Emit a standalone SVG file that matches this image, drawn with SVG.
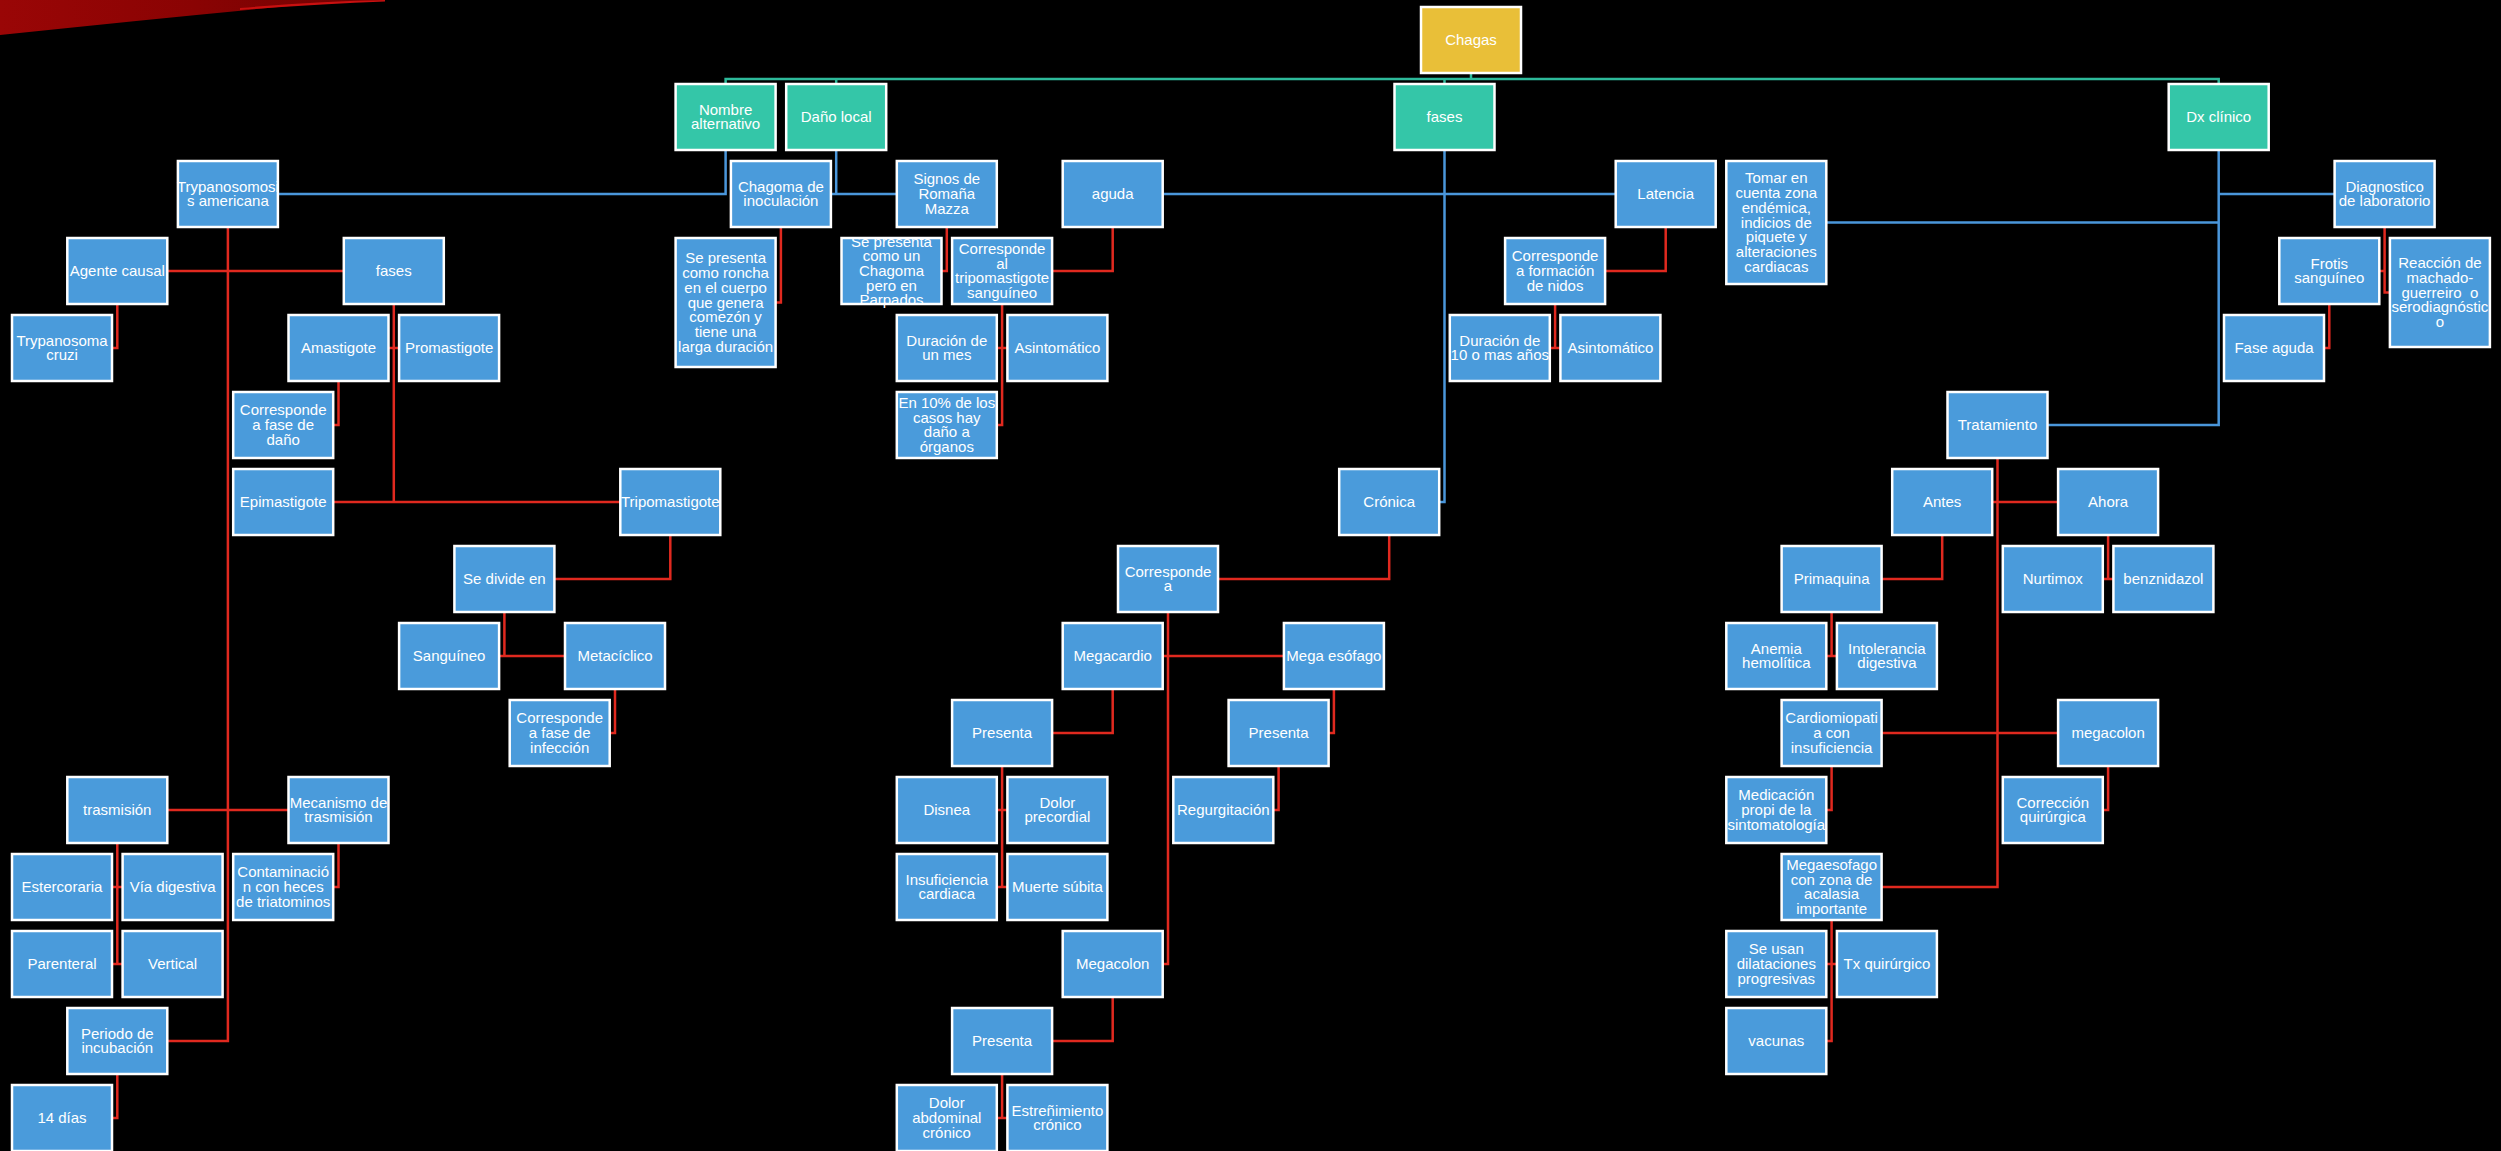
<svg xmlns="http://www.w3.org/2000/svg" width="2501" height="1151" viewBox="0 0 2501 1151">
<defs>
<linearGradient id="red" x1="0" y1="0" x2="1" y2="0">
<stop offset="0" stop-color="#9a0606"/><stop offset="0.5" stop-color="#8a0303"/><stop offset="1" stop-color="#6e0202"/>
</linearGradient>
<style>
.b{fill:#4A9BDB;stroke:#fff;stroke-width:2.5}
.g{fill:#34C6A8;stroke:#fff;stroke-width:2.5}
.y{fill:#E9BF38;stroke:#fff;stroke-width:2.5}
.t{font-family:"Liberation Sans",Arial,sans-serif;font-size:15px;fill:#fff;text-anchor:middle}
.ct{fill:none;stroke:#2DB99A;stroke-width:2.5}
.cb{fill:none;stroke:#4A96DA;stroke-width:2.5}
.cr{fill:none;stroke:#E0291F;stroke-width:2.5}
</style>
</defs>
<rect x="0" y="0" width="2501" height="1151" fill="#000"/>
<path d="M0,0 L385,0 Q330,3 300,5 Q160,18 0,35 Z" fill="url(#red)"/>
<path d="M240,8 Q320,1 385,0 L385,1.5 Q320,4 240,10 Z" fill="#c81010"/>
<g id="connectors">
<path class="ct" d="M725.6,84 V79 H2218.7 V84 M836.2,79 V84 M1444.5,79 V84 M1471,73 V79"/>
<path class="cb" d="M725.6,150 V194 H278 M836.2,150 V194 M830.9,194 H896.8 M1444.5,150 V502 H1439.2 M1162.7,194 H1615.7 M2218.7,150 V425 H2047.5 M2218.7,194 H2334.6 M1826.3,222.5 H2218.7"/>
<path class="cr" d="M227.9,227 V1041 H167.3 M167.3,271 H343.8 M167.3,810 H288.5
M117.3,304 V348 H112
M393.8,304 V502 M388.5,348 H399.1 M333.2,502 H620.3
M338.5,381 V425 H333.2
M670.3,535 V579 H554.4
M504.4,612 V656 M499.1,656 H565
M615,689 V733 H609.7
M117.3,843 V964 M112,887 H122.6 M112,964 H122.6
M338.5,843 V887 H333.2
M117.3,1074 V1118 H112
M780.9,227 V302.5 H775.6
M946.8,227 V271 H941.5
M1112.7,227 V271 H1052.1
M1002.1,304 V425 H996.8 M996.8,348 H1007.4
M1665.7,227 V271 H1605.1
M1555.1,304 V348 M1549.8,348 H1560.4
M1389.2,535 V579 H1218
M1168,612 V964 H1162.7 M1162.7,656 H1283.9
M1112.7,689 V733 H1052.1
M1002.1,766 V887 M996.8,810 H1007.4 M996.8,887 H1007.4
M1333.9,689 V733 H1328.6
M1278.6,766 V810 H1273.3
M1112.7,997 V1041 H1052.1
M1002.1,1074 V1118 M996.8,1118 H1007.4
M1997.5,458 V887 H1881.6 M1992.2,502 H2058.1 M1881.6,733 H2058.1
M1942.2,535 V579 H1881.6
M2108.1,535 V579 M2102.8,579 H2113.4
M1831.6,612 V656 M1826.3,656 H1836.9
M1831.6,766 V810 H1826.3
M2108.1,766 V810 H2102.8
M1831.6,920 V1041 H1826.3 M1826.3,964 H1836.9
M2384.6,227 V292.5 H2389.9 M2379.3,271 H2384.6
M2329.3,304 V348 H2324"/>
</g>
<g id="chagas"><rect class="y" x="1421" y="7" width="100" height="66"/><text class="t" x="1471" y="45">Chagas</text></g>
<g id="nombre-alternativo"><rect class="g" x="675.6" y="84" width="100" height="66"/><text class="t"><tspan x="725.6" y="114.65">Nombre</tspan><tspan x="725.6" dy="14.7">alternativo</tspan></text></g>
<g id="dano-local"><rect class="g" x="786.2" y="84" width="100" height="66"/><text class="t" x="836.2" y="122">Daño local</text></g>
<g id="fases-principal"><rect class="g" x="1394.5" y="84" width="100" height="66"/><text class="t" x="1444.5" y="122">fases</text></g>
<g id="dx-clinico"><rect class="g" x="2168.7" y="84" width="100" height="66"/><text class="t" x="2218.7" y="122">Dx clínico</text></g>
<g id="trypanosomosis"><rect class="b" x="177.9" y="161" width="100" height="66"/><text class="t"><tspan x="227.9" y="191.65">Trypanosomosi</tspan><tspan x="227.9" dy="14.7">s americana</tspan></text></g>
<g id="agente-causal"><rect class="b" x="67.3" y="238" width="100" height="66"/><text class="t" x="117.3" y="276">Agente causal</text></g>
<g id="fases-parasito"><rect class="b" x="343.8" y="238" width="100" height="66"/><text class="t" x="393.8" y="276">fases</text></g>
<g id="t-cruzi"><rect class="b" x="12" y="315" width="100" height="66"/><text class="t"><tspan x="62" y="345.65">Trypanosoma</tspan><tspan x="62" dy="14.7">cruzi</tspan></text></g>
<g id="amastigote"><rect class="b" x="288.5" y="315" width="100" height="66"/><text class="t" x="338.5" y="353">Amastigote</text></g>
<g id="promastigote"><rect class="b" x="399.1" y="315" width="100" height="66"/><text class="t" x="449.1" y="353">Promastigote</text></g>
<g id="fase-dano"><rect class="b" x="233.2" y="392" width="100" height="66"/><text class="t"><tspan x="283.2" y="415.3">Corresponde</tspan><tspan x="283.2" dy="14.7">a fase de</tspan><tspan x="283.2" dy="14.7">daño</tspan></text></g>
<g id="epimastigote"><rect class="b" x="233.2" y="469" width="100" height="66"/><text class="t" x="283.2" y="507">Epimastigote</text></g>
<g id="tripomastigote"><rect class="b" x="620.3" y="469" width="100" height="66"/><text class="t" x="670.3" y="507">Tripomastigote</text></g>
<g id="se-divide"><rect class="b" x="454.4" y="546" width="100" height="66"/><text class="t" x="504.4" y="584">Se divide en</text></g>
<g id="sanguineo"><rect class="b" x="399.1" y="623" width="100" height="66"/><text class="t" x="449.1" y="661">Sanguíneo</text></g>
<g id="metaciclico"><rect class="b" x="565" y="623" width="100" height="66"/><text class="t" x="615" y="661">Metacíclico</text></g>
<g id="fase-infeccion"><rect class="b" x="509.7" y="700" width="100" height="66"/><text class="t"><tspan x="559.7" y="723.3">Corresponde</tspan><tspan x="559.7" dy="14.7">a fase de</tspan><tspan x="559.7" dy="14.7">infección</tspan></text></g>
<g id="trasmision"><rect class="b" x="67.3" y="777" width="100" height="66"/><text class="t" x="117.3" y="815">trasmisión</text></g>
<g id="mecanismo"><rect class="b" x="288.5" y="777" width="100" height="66"/><text class="t"><tspan x="338.5" y="807.65">Mecanismo de</tspan><tspan x="338.5" dy="14.7">trasmisión</tspan></text></g>
<g id="estercoraria"><rect class="b" x="12" y="854" width="100" height="66"/><text class="t" x="62" y="892">Estercoraria</text></g>
<g id="via-digestiva"><rect class="b" x="122.6" y="854" width="100" height="66"/><text class="t" x="172.6" y="892">Vía digestiva</text></g>
<g id="contaminacion"><rect class="b" x="233.2" y="854" width="100" height="66"/><text class="t"><tspan x="283.2" y="877.3">Contaminació</tspan><tspan x="283.2" dy="14.7">n con heces</tspan><tspan x="283.2" dy="14.7">de triatominos</tspan></text></g>
<g id="parenteral"><rect class="b" x="12" y="931" width="100" height="66"/><text class="t" x="62" y="969">Parenteral</text></g>
<g id="vertical"><rect class="b" x="122.6" y="931" width="100" height="66"/><text class="t" x="172.6" y="969">Vertical</text></g>
<g id="periodo"><rect class="b" x="67.3" y="1008" width="100" height="66"/><text class="t"><tspan x="117.3" y="1038.65">Periodo de</tspan><tspan x="117.3" dy="14.7">incubación</tspan></text></g>
<g id="catorce-dias"><rect class="b" x="12" y="1085" width="100" height="66"/><text class="t" x="62" y="1123">14 días</text></g>
<g id="chagoma"><rect class="b" x="730.9" y="161" width="100" height="66"/><text class="t"><tspan x="780.9" y="191.65">Chagoma de</tspan><tspan x="780.9" dy="14.7">inoculación</tspan></text></g>
<g id="roncha"><rect class="b" x="675.6" y="238" width="100" height="129"/><text class="t"><tspan x="725.6" y="263.4">Se presenta</tspan><tspan x="725.6" dy="14.7">como roncha</tspan><tspan x="725.6" dy="14.7">en el cuerpo</tspan><tspan x="725.6" dy="14.7">que genera</tspan><tspan x="725.6" dy="14.7">comezón y</tspan><tspan x="725.6" dy="14.7">tiene una</tspan><tspan x="725.6" dy="14.7">larga duración</tspan></text></g>
<g id="signos"><rect class="b" x="896.8" y="161" width="100" height="66"/><text class="t"><tspan x="946.8" y="184.3">Signos de</tspan><tspan x="946.8" dy="14.7">Romaña</tspan><tspan x="946.8" dy="14.7">Mazza</tspan></text></g>
<g id="chagoma-parpados"><rect class="b" x="841.5" y="238" width="100" height="66"/><text class="t"><tspan x="891.5" y="246.6">Se presenta</tspan><tspan x="891.5" dy="14.7">como un</tspan><tspan x="891.5" dy="14.7">Chagoma</tspan><tspan x="891.5" dy="14.7">pero en</tspan><tspan x="891.5" dy="14.7">Parpados</tspan></text></g>
<g id="corresp-tripo"><rect class="b" x="952.1" y="238" width="100" height="66"/><text class="t"><tspan x="1002.1" y="253.95">Corresponde</tspan><tspan x="1002.1" dy="14.7">al</tspan><tspan x="1002.1" dy="14.7">tripomastigote</tspan><tspan x="1002.1" dy="14.7">sanguíneo</tspan></text></g>
<g id="aguda"><rect class="b" x="1062.7" y="161" width="100" height="66"/><text class="t" x="1112.7" y="199">aguda</text></g>
<g id="duracion-mes"><rect class="b" x="896.8" y="315" width="100" height="66"/><text class="t"><tspan x="946.8" y="345.65">Duración de</tspan><tspan x="946.8" dy="14.7">un mes</tspan></text></g>
<g id="asintomatico-1"><rect class="b" x="1007.4" y="315" width="100" height="66"/><text class="t" x="1057.4" y="353">Asintomático</text></g>
<g id="diez-porciento"><rect class="b" x="896.8" y="392" width="100" height="66"/><text class="t"><tspan x="946.8" y="407.95">En 10% de los</tspan><tspan x="946.8" dy="14.7">casos hay</tspan><tspan x="946.8" dy="14.7">daño a</tspan><tspan x="946.8" dy="14.7">órganos</tspan></text></g>
<g id="latencia"><rect class="b" x="1615.7" y="161" width="100" height="66"/><text class="t" x="1665.7" y="199">Latencia</text></g>
<g id="formacion-nidos"><rect class="b" x="1505.1" y="238" width="100" height="66"/><text class="t"><tspan x="1555.1" y="261.3">Corresponde</tspan><tspan x="1555.1" dy="14.7">a formación</tspan><tspan x="1555.1" dy="14.7">de nidos</tspan></text></g>
<g id="duracion-10"><rect class="b" x="1449.8" y="315" width="100" height="66"/><text class="t"><tspan x="1499.8" y="345.65">Duración de</tspan><tspan x="1499.8" dy="14.7">10 o mas años</tspan></text></g>
<g id="asintomatico-2"><rect class="b" x="1560.4" y="315" width="100" height="66"/><text class="t" x="1610.4" y="353">Asintomático</text></g>
<g id="tomar"><rect class="b" x="1726.3" y="161" width="100" height="123"/><text class="t"><tspan x="1776.3" y="183.4">Tomar en</tspan><tspan x="1776.3" dy="14.7">cuenta zona</tspan><tspan x="1776.3" dy="14.7">endémica,</tspan><tspan x="1776.3" dy="14.7">indicios de</tspan><tspan x="1776.3" dy="14.7">piquete y</tspan><tspan x="1776.3" dy="14.7">alteraciones</tspan><tspan x="1776.3" dy="14.7">cardiacas</tspan></text></g>
<g id="diag-lab"><rect class="b" x="2334.6" y="161" width="100" height="66"/><text class="t"><tspan x="2384.6" y="191.65">Diagnostico</tspan><tspan x="2384.6" dy="14.7">de laboratorio</tspan></text></g>
<g id="frotis"><rect class="b" x="2279.3" y="238" width="100" height="66"/><text class="t"><tspan x="2329.3" y="268.65">Frotis</tspan><tspan x="2329.3" dy="14.7">sanguíneo</tspan></text></g>
<g id="reaccion"><rect class="b" x="2389.9" y="238" width="100" height="109"/><text class="t"><tspan x="2439.9" y="268.1">Reacción de</tspan><tspan x="2439.9" dy="14.7">machado-</tspan><tspan x="2439.9" dy="14.7">guerreiro&#160; o</tspan><tspan x="2439.9" dy="14.7">serodiagnóstic</tspan><tspan x="2439.9" dy="14.7">o</tspan></text></g>
<g id="fase-aguda"><rect class="b" x="2224" y="315" width="100" height="66"/><text class="t" x="2274" y="353">Fase aguda</text></g>
<g id="cronica"><rect class="b" x="1339.2" y="469" width="100" height="66"/><text class="t" x="1389.2" y="507">Crónica</text></g>
<g id="corresponde-a"><rect class="b" x="1118" y="546" width="100" height="66"/><text class="t"><tspan x="1168" y="576.65">Corresponde</tspan><tspan x="1168" dy="14.7">a</tspan></text></g>
<g id="megacardio"><rect class="b" x="1062.7" y="623" width="100" height="66"/><text class="t" x="1112.7" y="661">Megacardio</text></g>
<g id="mega-esofago"><rect class="b" x="1283.9" y="623" width="100" height="66"/><text class="t" x="1333.9" y="661">Mega esófago</text></g>
<g id="presenta-cardio"><rect class="b" x="952.1" y="700" width="100" height="66"/><text class="t" x="1002.1" y="738">Presenta</text></g>
<g id="presenta-esofago"><rect class="b" x="1228.6" y="700" width="100" height="66"/><text class="t" x="1278.6" y="738">Presenta</text></g>
<g id="disnea"><rect class="b" x="896.8" y="777" width="100" height="66"/><text class="t" x="946.8" y="815">Disnea</text></g>
<g id="dolor-precordial"><rect class="b" x="1007.4" y="777" width="100" height="66"/><text class="t"><tspan x="1057.4" y="807.65">Dolor</tspan><tspan x="1057.4" dy="14.7">precordial</tspan></text></g>
<g id="regurgitacion"><rect class="b" x="1173.3" y="777" width="100" height="66"/><text class="t" x="1223.3" y="815">Regurgitación</text></g>
<g id="insuf-cardiaca"><rect class="b" x="896.8" y="854" width="100" height="66"/><text class="t"><tspan x="946.8" y="884.65">Insuficiencia</tspan><tspan x="946.8" dy="14.7">cardiaca</tspan></text></g>
<g id="muerte-subita"><rect class="b" x="1007.4" y="854" width="100" height="66"/><text class="t" x="1057.4" y="892">Muerte súbita</text></g>
<g id="megacolon"><rect class="b" x="1062.7" y="931" width="100" height="66"/><text class="t" x="1112.7" y="969">Megacolon</text></g>
<g id="presenta-colon"><rect class="b" x="952.1" y="1008" width="100" height="66"/><text class="t" x="1002.1" y="1046">Presenta</text></g>
<g id="dolor-abdominal"><rect class="b" x="896.8" y="1085" width="100" height="66"/><text class="t"><tspan x="946.8" y="1108.3">Dolor</tspan><tspan x="946.8" dy="14.7">abdominal</tspan><tspan x="946.8" dy="14.7">crónico</tspan></text></g>
<g id="estrenimiento"><rect class="b" x="1007.4" y="1085" width="100" height="66"/><text class="t"><tspan x="1057.4" y="1115.65">Estreñimiento</tspan><tspan x="1057.4" dy="14.7">crónico</tspan></text></g>
<g id="tratamiento"><rect class="b" x="1947.5" y="392" width="100" height="66"/><text class="t" x="1997.5" y="430">Tratamiento</text></g>
<g id="antes"><rect class="b" x="1892.2" y="469" width="100" height="66"/><text class="t" x="1942.2" y="507">Antes</text></g>
<g id="ahora"><rect class="b" x="2058.1" y="469" width="100" height="66"/><text class="t" x="2108.1" y="507">Ahora</text></g>
<g id="primaquina"><rect class="b" x="1781.6" y="546" width="100" height="66"/><text class="t" x="1831.6" y="584">Primaquina</text></g>
<g id="nurtimox"><rect class="b" x="2002.8" y="546" width="100" height="66"/><text class="t" x="2052.8" y="584">Nurtimox</text></g>
<g id="benznidazol"><rect class="b" x="2113.4" y="546" width="100" height="66"/><text class="t" x="2163.4" y="584">benznidazol</text></g>
<g id="anemia"><rect class="b" x="1726.3" y="623" width="100" height="66"/><text class="t"><tspan x="1776.3" y="653.65">Anemia</tspan><tspan x="1776.3" dy="14.7">hemolítica</tspan></text></g>
<g id="intolerancia"><rect class="b" x="1836.9" y="623" width="100" height="66"/><text class="t"><tspan x="1886.9" y="653.65">Intolerancia</tspan><tspan x="1886.9" dy="14.7">digestiva</tspan></text></g>
<g id="cardiomiopatia"><rect class="b" x="1781.6" y="700" width="100" height="66"/><text class="t"><tspan x="1831.6" y="723.3">Cardiomiopati</tspan><tspan x="1831.6" dy="14.7">a con</tspan><tspan x="1831.6" dy="14.7">insuficiencia</tspan></text></g>
<g id="megacolon-tx"><rect class="b" x="2058.1" y="700" width="100" height="66"/><text class="t" x="2108.1" y="738">megacolon</text></g>
<g id="medicacion"><rect class="b" x="1726.3" y="777" width="100" height="66"/><text class="t"><tspan x="1776.3" y="800.3">Medicación</tspan><tspan x="1776.3" dy="14.7">propi de la</tspan><tspan x="1776.3" dy="14.7">sintomatología</tspan></text></g>
<g id="correccion"><rect class="b" x="2002.8" y="777" width="100" height="66"/><text class="t"><tspan x="2052.8" y="807.65">Corrección</tspan><tspan x="2052.8" dy="14.7">quirúrgica</tspan></text></g>
<g id="megaesofago-tx"><rect class="b" x="1781.6" y="854" width="100" height="66"/><text class="t"><tspan x="1831.6" y="869.95">Megaesofago</tspan><tspan x="1831.6" dy="14.7">con zona de</tspan><tspan x="1831.6" dy="14.7">acalasia</tspan><tspan x="1831.6" dy="14.7">importante</tspan></text></g>
<g id="se-usan"><rect class="b" x="1726.3" y="931" width="100" height="66"/><text class="t"><tspan x="1776.3" y="954.3">Se usan</tspan><tspan x="1776.3" dy="14.7">dilataciones</tspan><tspan x="1776.3" dy="14.7">progresivas</tspan></text></g>
<g id="tx-quirurgico"><rect class="b" x="1836.9" y="931" width="100" height="66"/><text class="t" x="1886.9" y="969">Tx quirúrgico</text></g>
<g id="vacunas"><rect class="b" x="1726.3" y="1008" width="100" height="66"/><text class="t" x="1776.3" y="1046">vacunas</text></g>
</svg>
